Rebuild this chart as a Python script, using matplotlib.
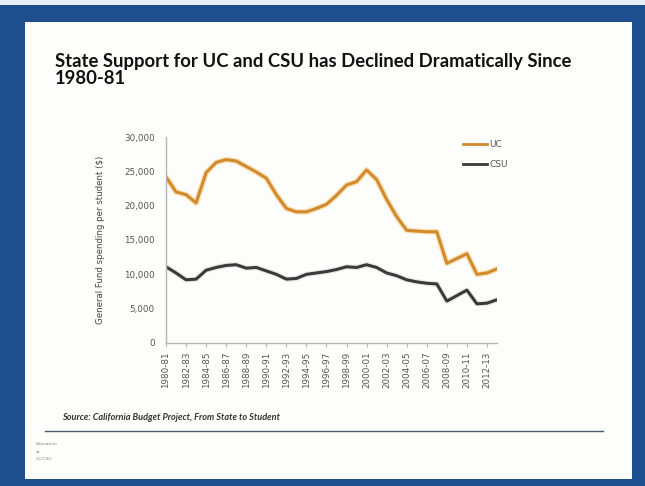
import matplotlib
matplotlib.use("Agg")
import matplotlib.pyplot as plt
from matplotlib.patches import Rectangle
from matplotlib.lines import Line2D

years = [f"{y}-{str(y + 1)[-2:]}" for y in range(1980, 2014)]
uc = [24.2, 22.0, 21.6, 20.4, 24.8, 26.3, 26.7, 26.5, 25.7, 24.9, 24.0, 21.6,
      19.6, 19.1, 19.1, 19.6, 20.2, 21.5, 23.0, 23.5, 25.2, 23.8, 20.9, 18.4,
      16.4, 16.3, 16.2, 16.2, 11.6, 12.3, 13.0, 10.0, 10.2, 10.8]
csu = [11.1, 10.2, 9.2, 9.3, 10.6, 11.0, 11.3, 11.4, 10.9, 11.0, 10.5, 10.0,
       9.3, 9.4, 10.0, 10.2, 10.4, 10.7, 11.1, 11.0, 11.4, 11.0, 10.2, 9.8,
       9.2, 8.9, 8.7, 8.6, 6.1, 6.9, 7.7, 5.7, 5.8, 6.3]
uc = [v * 1000 for v in uc]
csu = [v * 1000 for v in csu]
yticks = [0, 5000, 10000, 15000, 20000, 25000, 30000]
title = "State Support for UC and CSU has Declined Dramatically Since\n1980-81"
source = "Source: California Budget Project, From State to Student"
ylabel = "General Fund spending per student ($)"

W, H = 645, 486
fig = plt.figure(figsize=(W / 100, H / 100), dpi=100)
fig.patch.set_facecolor("#1d4f8e")

def fx(px):
    return px / W

def fy(py):
    return 1 - py / H

bg = fig.add_axes([0, 0, 1, 1], zorder=-10)
bg.set_xlim(0, 1)
bg.set_ylim(0, 1)
bg.axis("off")
bg.add_patch(Rectangle((0, fy(5)), 1, 5 / H, facecolor="#e9eef5", edgecolor="none"))
bg.add_patch(Rectangle((fx(25), fy(479)), fx(632) - fx(25), (479 - 22) / H,
                       facecolor="#fdfdfb", edgecolor="none"))
bg.add_line(Line2D([fx(45), fx(603)], [fy(431), fy(431)], color="#4d5b69", lw=1.0))

fig.text(fx(55), fy(53), title, fontsize=13.3, fontweight="bold",
         family=["Lato", "DejaVu Sans"], color="#111111", va="top", ha="left",
         linespacing=1.0)

ax = fig.add_axes([fx(166), fy(343), fx(497) - fx(166), (343 - 137) / H])
ax.set_facecolor("none")
x = list(range(len(years)))
ax.plot(x, uc, color="#f2c470", lw=4.2, alpha=0.45, solid_capstyle="round")
ax.plot(x, uc, color="#d28a2c", lw=2.2, label="UC")
ax.plot(x, csu, color="#cfcfcf", lw=4.0, alpha=0.4)
ax.plot(x, csu, color="#3a3a3a", lw=2.2, label="CSU")
ax.set_xlim(0, len(years) - 1)
ax.set_ylim(0, 30000)
ax.set_yticks(yticks)
ax.set_yticklabels([f"{v:,}" for v in yticks], fontsize=6.3, color="#555555")
ax.set_xticks(x[::2])
ax.set_xticklabels(years[::2], rotation=90, fontsize=6.3, color="#555555")
ax.tick_params(axis="y", length=0, pad=8)
ax.tick_params(axis="x", length=3, color="#bbbbbb", pad=3)
for s in ["top", "right"]:
    ax.spines[s].set_visible(False)
for s in ["left", "bottom"]:
    ax.spines[s].set_color("#b5b5b5")
    ax.spines[s].set_linewidth(1.0)
ax.set_ylabel(ylabel, fontsize=6.2, color="#444444", labelpad=14)

handles = [Line2D([], [], color="#d28a2c", lw=2), Line2D([], [], color="#3a3a3a", lw=2)]
fig.legend(handles, ["UC", "CSU"], loc="upper left",
           bbox_to_anchor=(fx(455), fy(132)), frameon=False, fontsize=6.5,
           handlelength=2.6, handletextpad=0.3, labelspacing=1.2,
           labelcolor="#555555")

fig.text(fx(62), fy(418), source, fontsize=6.6, style="italic", fontweight="bold",
         family=["Lato", "DejaVu Sans"], color="#333333", va="center", ha="left")
for i, t in enumerate(["Education", "at", "UC/CSU"]):
    fig.text(fx(36), fy(444 + 7.5 * i), t, fontsize=3.2, color="#888888",
             va="center", ha="left")

fig.savefig("out.png", dpi=100, facecolor=fig.get_facecolor())
